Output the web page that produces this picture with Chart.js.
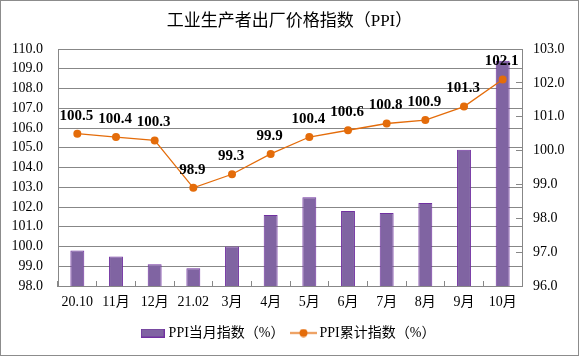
<!DOCTYPE html>
<html>
<head>
<meta charset="utf-8">
<script src="https://cdn.jsdelivr.net/npm/chart.js@4/dist/chart.umd.min.js"></script>
<style>
html,body{margin:0;padding:0;background:#fff;}
canvas{display:block;}
</style>
</head>
<body>
<canvas id="c" width="579" height="356"></canvas>
<script>
const categories = ['20.10','11月','12月','21.02','3月','4月','5月','6月','7月','8月','9月','10月'];
const monthlyIndex = [99.8, 99.5, 99.1, 98.9, 100.0, 101.6, 102.5, 101.8, 101.7, 102.2, 104.9, 109.4];
const cumulativeIndex = [100.5, 100.4, 100.3, 98.9, 99.3, 99.9, 100.4, 100.6, 100.8, 100.9, 101.3, 102.1];
const leftAxisRange = [98, 110];
const rightAxisRange = [96, 103];
const seriesNames = ['PPI当月指数（%）', 'PPI累计指数（%）'];
const chartTitle = '工业生产者出厂价格指数（PPI）';

const FONT = '"Liberation Serif", "Noto Sans CJK SC", serif';
const GRID = '#878787';
const BAR_FILL = '#8064A2';
const BAR_EDGE = '#7030A0';
const LINE_C = '#E46C0A';

function makeBarSwatch() {
  const c = document.createElement('canvas');
  c.width = 24; c.height = 9;
  const g = c.getContext('2d');
  g.fillStyle = BAR_FILL; g.fillRect(0, 0, 24, 9);
  g.strokeStyle = BAR_EDGE; g.lineWidth = 1; g.strokeRect(0.5, 0.5, 23, 8);
  return c;
}
function makeLineSwatch() {
  const c = document.createElement('canvas');
  c.width = 27; c.height = 9;
  const g = c.getContext('2d');
  g.strokeStyle = LINE_C; g.lineWidth = 1.5;
  g.beginPath(); g.moveTo(0, 4.5); g.lineTo(27, 4.5); g.stroke();
  g.fillStyle = LINE_C; g.beginPath(); g.arc(13.5, 4.5, 4, 0, Math.PI * 2); g.fill();
  return c;
}
const swatches = [makeBarSwatch(), makeLineSwatch()];

const framePlugin = {
  id: 'frame',
  beforeDraw(chart) {
    const ctx = chart.ctx;
    ctx.save();
    ctx.fillStyle = '#fff';
    ctx.fillRect(0, 0, chart.width, chart.height);
    ctx.restore();
  },
  afterDraw(chart) {
    const ctx = chart.ctx;
    ctx.save();
    ctx.strokeStyle = '#8c8c8c';
    ctx.lineWidth = 1;
    ctx.strokeRect(0.5, 0.5, chart.width - 1, chart.height - 1);
    ctx.restore();
  }
};

const labelPlugin = {
  id: 'pointLabels',
  afterDatasetsDraw(chart) {
    const meta = chart.getDatasetMeta(1);
    const ctx = chart.ctx;
    ctx.save();
    ctx.font = 'bold 15px ' + FONT;
    ctx.fillStyle = '#000';
    ctx.textAlign = 'center';
    ctx.textBaseline = 'middle';
    meta.data.forEach((pt, i) => {
      ctx.fillText(cumulativeIndex[i].toFixed(1), pt.x - 1, pt.y - 18);
    });
    ctx.restore();
  }
};

new Chart(document.getElementById('c'), {
  data: {
    labels: categories,
    datasets: [
      {
        type: 'bar',
        label: seriesNames[0],
        data: monthlyIndex,
        yAxisID: 'y',
        backgroundColor: BAR_FILL,
        borderColor: BAR_EDGE,
        borderWidth: 1,
        categoryPercentage: 1,
        barPercentage: 0.36,
        order: 2
      },
      {
        type: 'line',
        label: seriesNames[1],
        data: cumulativeIndex,
        yAxisID: 'y1',
        borderColor: LINE_C,
        backgroundColor: LINE_C,
        borderWidth: 1.3,
        pointRadius: 4,
        pointHoverRadius: 4,
        pointBorderWidth: 0,
        pointBackgroundColor: LINE_C,
        tension: 0,
        order: 1
      }
    ]
  },
  options: {
    responsive: false,
    animation: false,
    devicePixelRatio: 1,
    layout: { padding: { left: 0, right: 0, top: 0, bottom: 6 } },
    plugins: {
      tooltip: { enabled: false },
      title: {
        display: true,
        text: chartTitle,
        color: '#000',
        font: { family: FONT, size: 17, weight: 'normal', lineHeight: 1.2 },
        padding: { top: 11, bottom: 17.6 }
      },
      legend: {
        display: true,
        position: 'bottom',
        labels: {
          color: '#000',
          font: { family: FONT, size: 14 },
          usePointStyle: true,
          pointStyleWidth: 18,
          padding: 10,
          generateLabels(chart) {
            return chart.data.datasets.map((ds, i) => ({
              text: ds.label,
              pointStyle: swatches[i],
              fillStyle: ds.backgroundColor,
              strokeStyle: ds.borderColor,
              lineWidth: 0,
              hidden: false,
              datasetIndex: i,
              fontColor: '#000'
            }));
          }
        }
      }
    },
    scales: {
      x: {
        type: 'category',
        offset: true,
        grid: {
          offset: true,
          drawOnChartArea: false,
          drawTicks: true,
          tickLength: -5,
          color: GRID
        },
        border: { display: true, color: GRID },
        ticks: {
          color: '#000',
          font: { family: FONT, size: 14 },
          padding: 13,
          maxRotation: 0,
          autoSkip: false
        },
        afterFit(s) { s.height = 30; }
      },
      y: {
        type: 'linear',
        position: 'left',
        min: leftAxisRange[0],
        max: leftAxisRange[1],
        grid: { color: GRID, drawTicks: false },
        border: { display: true, color: GRID },
        ticks: {
          stepSize: 1,
          autoSkip: false,
          color: '#000',
          font: { family: FONT, size: 14 },
          padding: 15,
          callback: v => Number(v).toFixed(1)
        },
        afterFit(s) { s.width = 58; }
      },
      y1: {
        type: 'linear',
        position: 'right',
        min: rightAxisRange[0],
        max: rightAxisRange[1],
        grid: { drawOnChartArea: false, drawTicks: true, tickLength: -6, color: GRID },
        border: { display: true, color: GRID },
        ticks: {
          stepSize: 1,
          autoSkip: false,
          color: '#000',
          font: { family: FONT, size: 14 },
          padding: 17,
          callback: v => Number(v).toFixed(1)
        },
        afterFit(s) { s.width = 57; }
      }
    }
  },
  plugins: [framePlugin, labelPlugin]
});
</script>
</body>
</html>
